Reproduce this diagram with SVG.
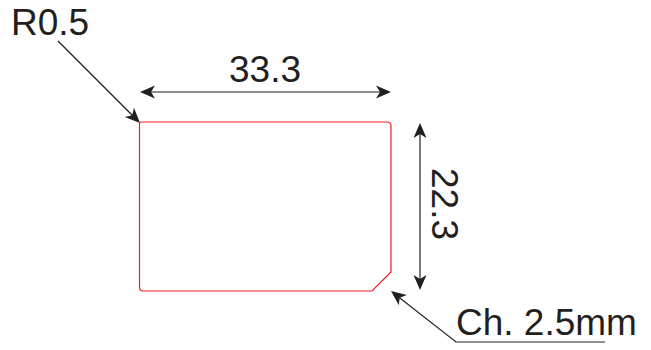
<svg xmlns="http://www.w3.org/2000/svg" width="651" height="350" viewBox="0 0 651 350">
<style>
text{font-family:"Liberation Sans",Arial,sans-serif;font-size:37px;fill:#231f20}
.c{fill:none;stroke:#231f20;stroke-width:1.2}
.h{fill:#231f20;stroke:none}
</style>
<defs>
<path id="ah" class="h" d="M0 0L-15 -6.500L-11 0L-15 6.500Z"/>
</defs>
<rect width="651" height="350" fill="#fff"/>
<g id="plate"><path d="M141 122H387Q391 122 391 126V272L372 291H143Q139.500 291 139.500 287V124Q139.500 122 141 122Z" fill="none" stroke="#ed1c24" stroke-width="1.2"/></g>
<g id="connectors">
<path class="c" d="M58 41L135 118"/>
<use href="#ah" transform="translate(140 123) rotate(45)"/>
<path class="c" d="M145 92H386"/>
<use href="#ah" transform="translate(140 92) rotate(180)"/>
<use href="#ah" transform="translate(391 92)"/>
<path class="c" d="M420 128V285"/>
<use href="#ah" transform="translate(420 123) rotate(-90)"/>
<use href="#ah" transform="translate(420 290) rotate(90)"/>
<path class="c" d="M605 342H456L396 295"/>
<use href="#ah" transform="translate(391 291) rotate(218)"/>
</g>
<g id="label-r"><text x="11" y="35">R0.5</text></g>
<g id="label-w"><text x="229" y="82">33.3</text></g>
<g id="label-h"><text transform="translate(432 168) rotate(90)">22.3</text></g>
<g id="label-ch"><text x="456" y="335">Ch. 2.5mm</text></g>
</svg>
